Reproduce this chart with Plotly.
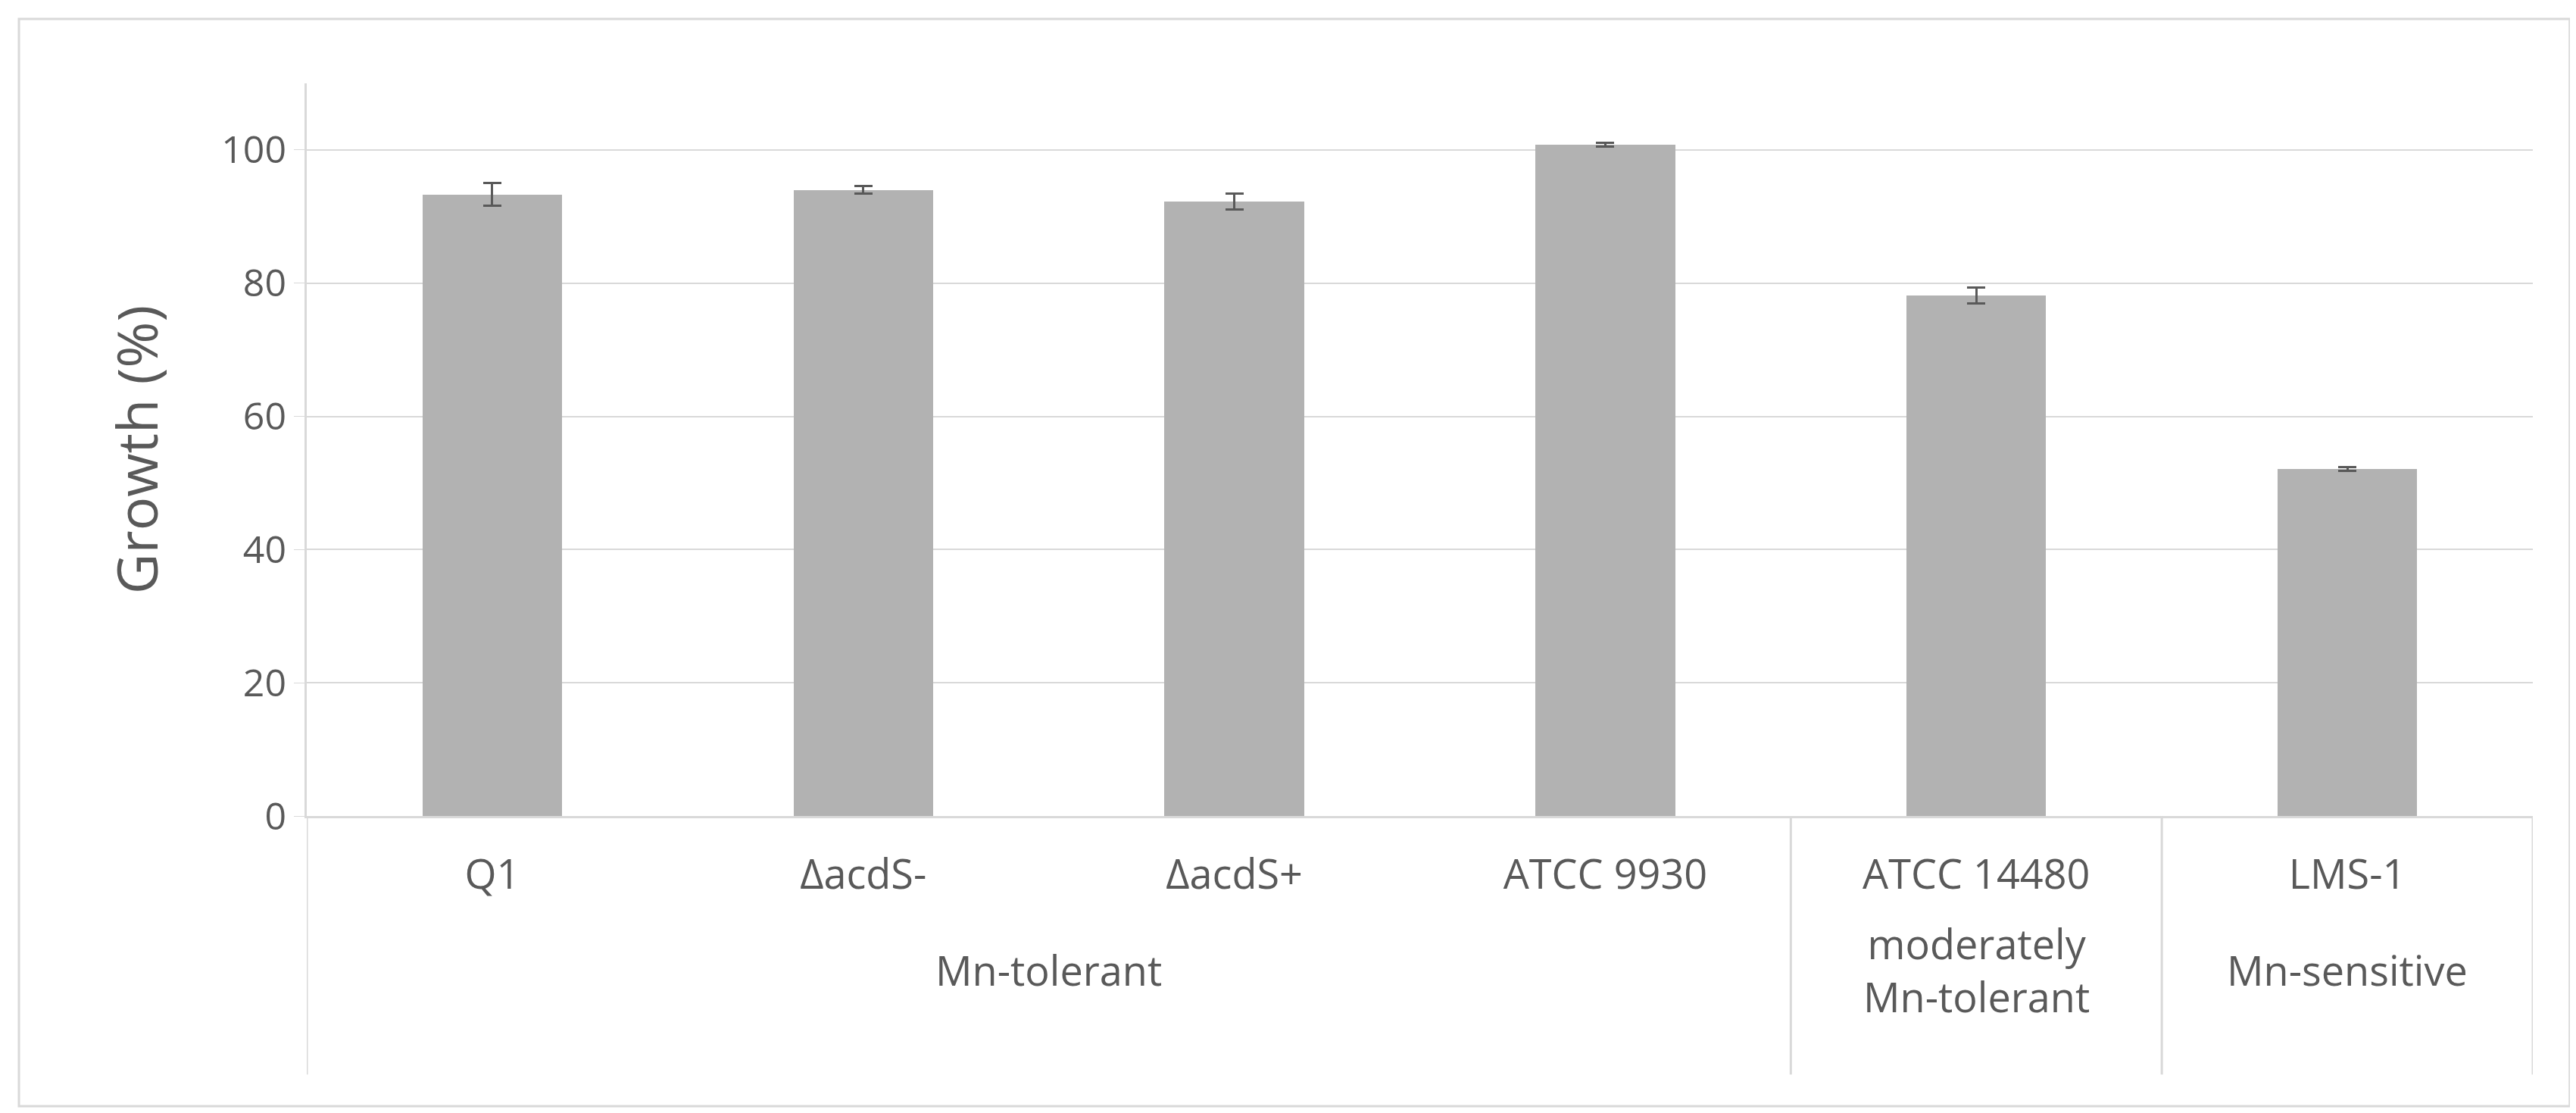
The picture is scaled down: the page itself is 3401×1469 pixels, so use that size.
import plotly.graph_objects as go

strains = ["Q1", "ΔacdS-", "ΔacdS+", "ATCC 9930", "ATCC 14480", "LMS-1"]
growth = [93.3, 94.0, 92.3, 100.8, 78.2, 52.1]
errors = [1.7, 0.6, 1.2, 0.3, 1.2, 0.3]
groups = ["Mn-tolerant", "moderately<br>Mn-tolerant", "Mn-sensitive"]
group_centers = [1.5, 4, 5]
y_ticks = [0, 20, 40, 60, 80, 100]

FONT = "Liberation Sans Narrow, Open Sans, sans-serif"
x = list(range(len(strains)))

fig = go.Figure(go.Bar(
    x=x, y=growth, width=0.376, marker=dict(color="#b2b2b2", line_width=0),
    error_y=dict(type="data", array=errors, color="#595959", thickness=3, width=12),
))

shapes = []
for xs in [-0.5, 3.5, 4.5, 5.5]:
    shapes.append(dict(type="line", xref="x", yref="paper", x0=xs, x1=xs, y0=0, y1=-0.353,
                       line=dict(color="#d9d9d9", width=3)))
shapes.append(dict(type="rect", xref="paper", yref="paper", x0=-0.1293, x1=1.0166, y0=-0.396, y1=1.088,
                   line=dict(color="#d9d9d9", width=3)))
annotations = []
for g, c in zip(groups, group_centers):
    annotations.append(dict(text=g, x=c, xref="x", y=-0.21, yref="paper", showarrow=False,
                            yanchor="middle", font=dict(family=FONT, size=54, color="#595959")))

fig.update_layout(
    width=3401, height=1469, paper_bgcolor="white", plot_bgcolor="white",
    margin=dict(l=397, r=65, t=102, b=400), showlegend=False, bargap=0,
    shapes=shapes, annotations=annotations,
    font=dict(family=FONT, size=54, color="#595959"),
    xaxis=dict(tickmode="array", tickvals=x, ticktext=strains, range=[-0.5, 5.5],
               showline=True, linecolor="#d9d9d9", linewidth=3, ticks="", ticklen=0,
               ticklabelstandoff=28, tickfont=dict(size=54, color="#595959")),
    yaxis=dict(range=[0, 110], tickvals=y_ticks, showgrid=True, gridcolor="#d9d9d9", gridwidth=2,
               showline=True, linecolor="#d9d9d9", linewidth=3, zeroline=False,
               tickfont=dict(size=50, color="#595959"), ticks="outside", ticklen=14, tickcolor="#d9d9d9",
               title=dict(text="Growth (%)", font=dict(size=74, color="#595959"), standoff=60)),
)
fig.write_html("out.html")
